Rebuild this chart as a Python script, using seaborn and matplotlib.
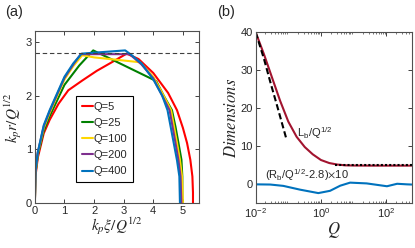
import numpy as np
import pandas as pd
import matplotlib
matplotlib.use('Agg')
import matplotlib.pyplot as plt
import seaborn as sns

# Panel (a): bubble profiles, k_p*xi/Q^1/2 vs k_p*r/Q^1/2
xi_q5 = [0, 0.02, 0.1, 0.3, 0.5, 0.8, 1.13, 1.6, 2.09, 2.6, 3.1, 3.5, 4.0, 4.5, 4.8, 5.0, 5.14, 5.25, 5.32, 5.34, 5.34]
r_q5 = [0, 0.5, 0.85, 1.3, 1.55, 1.85, 2.1, 2.28, 2.46, 2.62, 2.78, 2.68, 2.42, 2.05, 1.73, 1.4, 1.12, 0.81, 0.5, 0.2, 0]

xi_q25 = [0, 0.02, 0.1, 0.3, 0.5, 1.0, 1.5, 1.97, 4.1, 4.35, 4.63, 4.75, 4.85, 4.95, 4.98, 4.98]
r_q25 = [0, 0.55, 0.9, 1.35, 1.62, 2.2, 2.56, 2.84, 2.27, 2.0, 1.73, 1.42, 1.12, 0.81, 0.5, 0]

xi_q100 = [0, 0.02, 0.1, 0.3, 0.5, 1.0, 1.3, 1.6, 2.0, 3.55, 4.0, 4.3, 4.6, 4.8, 4.9, 4.97, 5.0]
r_q100 = [0, 0.58, 0.93, 1.4, 1.68, 2.3, 2.55, 2.75, 2.71, 2.62, 2.35, 2.05, 1.73, 1.12, 0.8, 0.5, 0]

xi_q200 = [0, 0.02, 0.1, 0.3, 0.5, 1.0, 1.3, 1.55, 3.2, 3.6, 4.0, 4.3, 4.55, 4.75, 4.85, 4.92, 4.95]
r_q200 = [0, 0.6, 0.95, 1.43, 1.71, 2.33, 2.58, 2.77, 2.77, 2.58, 2.32, 2.0, 1.73, 1.12, 0.8, 0.5, 0]

xi_q400 = [0, 0.02, 0.1, 0.3, 0.5, 1.0, 1.3, 1.58, 3.05, 3.25, 3.6, 4.0, 4.3, 4.48, 4.69, 4.8, 4.88, 4.9]
r_q400 = [0, 0.6, 0.95, 1.45, 1.73, 2.35, 2.6, 2.78, 2.84, 2.76, 2.6, 2.3, 2.0, 1.73, 1.12, 0.8, 0.5, 0]

ref_level = 2.8

# Panel (b): dimensions vs Q
q_len = [0.01, 0.018, 0.032, 0.056, 0.1, 0.18, 0.32, 0.56, 1, 1.8, 3.2, 5.6, 10, 32, 100, 320, 600]
len_vals = [40, 34.2, 28, 22, 16.5, 12.5, 9.8, 7.9, 6.4, 5.6, 5.2, 5.0, 4.95, 4.92, 4.92, 4.92, 4.92]

q_fit = [0.01, 0.018, 0.029, 0.046, 0.085]
fit_vals = [40, 33, 26.5, 20.5, 12.3]

q_flat = [2.7, 600]
flat_vals = [5.0, 5.0]

q_rad = [0.01, 0.028, 0.07, 0.23, 0.83, 1.9, 3.9, 7.8, 25, 105, 215, 430, 600]
rad_vals = [0, -0.05, -0.4, -1.4, -2.3, -1.7, -0.35, 0.45, 0.25, -0.5, 0.15, 0.0, -0.05]

sns.set_style('ticks')
plt.rcParams['font.family'] = ['Liberation Sans', 'DejaVu Sans']
plt.rcParams['mathtext.fontset'] = 'stix'
plt.rcParams['xtick.direction'] = 'in'
plt.rcParams['ytick.direction'] = 'in'
plt.rcParams['xtick.color'] = '#404040'
plt.rcParams['ytick.color'] = '#404040'
plt.rcParams['xtick.labelcolor'] = '#262626'
plt.rcParams['ytick.labelcolor'] = '#262626'

fig = plt.figure(figsize=(4.15, 2.48), dpi=100)
ax1 = fig.add_axes([0.084, 0.18, 0.396, 0.695])
ax2 = fig.add_axes([0.616, 0.18, 0.376, 0.69])

# (a) profiles
profiles = [
    ('Q=5', xi_q5, r_q5, '#ff0000'),
    ('Q=25', xi_q25, r_q25, '#008000'),
    ('Q=100', xi_q100, r_q100, '#ffd700'),
    ('Q=200', xi_q200, r_q200, '#7e2f8e'),
    ('Q=400', xi_q400, r_q400, '#0072bd'),
]
for name, xs, ys, col in profiles:
    sns.lineplot(x=xs, y=ys, ax=ax1, color=col, lw=1.5, sort=False, estimator=None, label=name)
ax1.axhline(ref_level, color='#404040', lw=0.8, ls=(0, (4, 2.5)))

ax1.set_xlim(0, 5.55)
ax1.set_ylim(0, 3.2)
ax1.set_xticks([0, 1, 2, 3, 4, 5])
ax1.set_yticks([0, 1, 2, 3])
ax1.tick_params(labelsize=8, top=True, right=True, length=3, width=0.7, pad=2)
ax1.set_xlabel(r'$k_p\xi/Q^{1/2}$', fontsize=11, labelpad=0)
ax1.set_ylabel(r'$k_p r/Q^{1/2}$', fontsize=11, labelpad=1)
leg = ax1.legend(loc='upper left', bbox_to_anchor=(0.25, 0.62), fontsize=8, fancybox=False,
                 edgecolor='black', framealpha=1, handlelength=1.0, handletextpad=0.1,
                 labelspacing=0.55, borderpad=0.5, borderaxespad=0)
leg.get_frame().set_linewidth(0.8)

# (b) dimensions vs Q
sns.lineplot(x=q_len, y=len_vals, ax=ax2, color='#a2142f', lw=1.5, sort=False, estimator=None)
sns.lineplot(x=q_fit, y=fit_vals, ax=ax2, color='black', lw=1.5, ls=(0, (3, 1.5)), sort=False, estimator=None)
sns.lineplot(x=q_flat, y=flat_vals, ax=ax2, color='black', lw=1.5, ls=(0, (1, 1)), sort=False, estimator=None)
sns.lineplot(x=q_rad, y=rad_vals, ax=ax2, color='#0072bd', lw=1.5, sort=False, estimator=None)

ax2.set_xscale('log')
ax2.set_xlim(0.01, 600)
ax2.set_ylim(-5, 40)
ax2.set_xticks([1e-2, 1, 1e2])
ax2.set_xticklabels([r'$\mathregular{10^{-2}}$', r'$\mathregular{10^{0}}$', r'$\mathregular{10^{2}}$'])
ax2.set_yticks([0, 10, 20, 30, 40])
ax2.tick_params(labelsize=8, top=True, right=True, length=3, width=0.7, pad=2)
ax2.tick_params(which='minor', top=True, length=1.5, width=0.5)
ax2.set_xlabel(r'$Q$', fontsize=12, labelpad=0)
ax2.set_ylabel(r'$Dimensions$', fontsize=12, labelpad=1)
ax2.text(0.19, 13.4, r'L$_\mathregular{b}$/Q$^\mathregular{1/2}$', fontsize=8, va='center', ha='left', color='#262626')
ax2.text(0.02, 2.4, r'(R$_\mathregular{b}$/Q$^\mathregular{1/2}$-2.8)$\times$10', fontsize=8, va='center', ha='left', color='#262626')

for ax in (ax1, ax2):
    for sp in ax.spines.values():
        sp.set_color('#505050')
        sp.set_linewidth(0.8)

fig.text(0.012, 0.935, '(a)', fontsize=10.5, color='#262626')
fig.text(0.524, 0.935, '(b)', fontsize=10.5, color='#262626')

fig.savefig('out.png', dpi=100)
